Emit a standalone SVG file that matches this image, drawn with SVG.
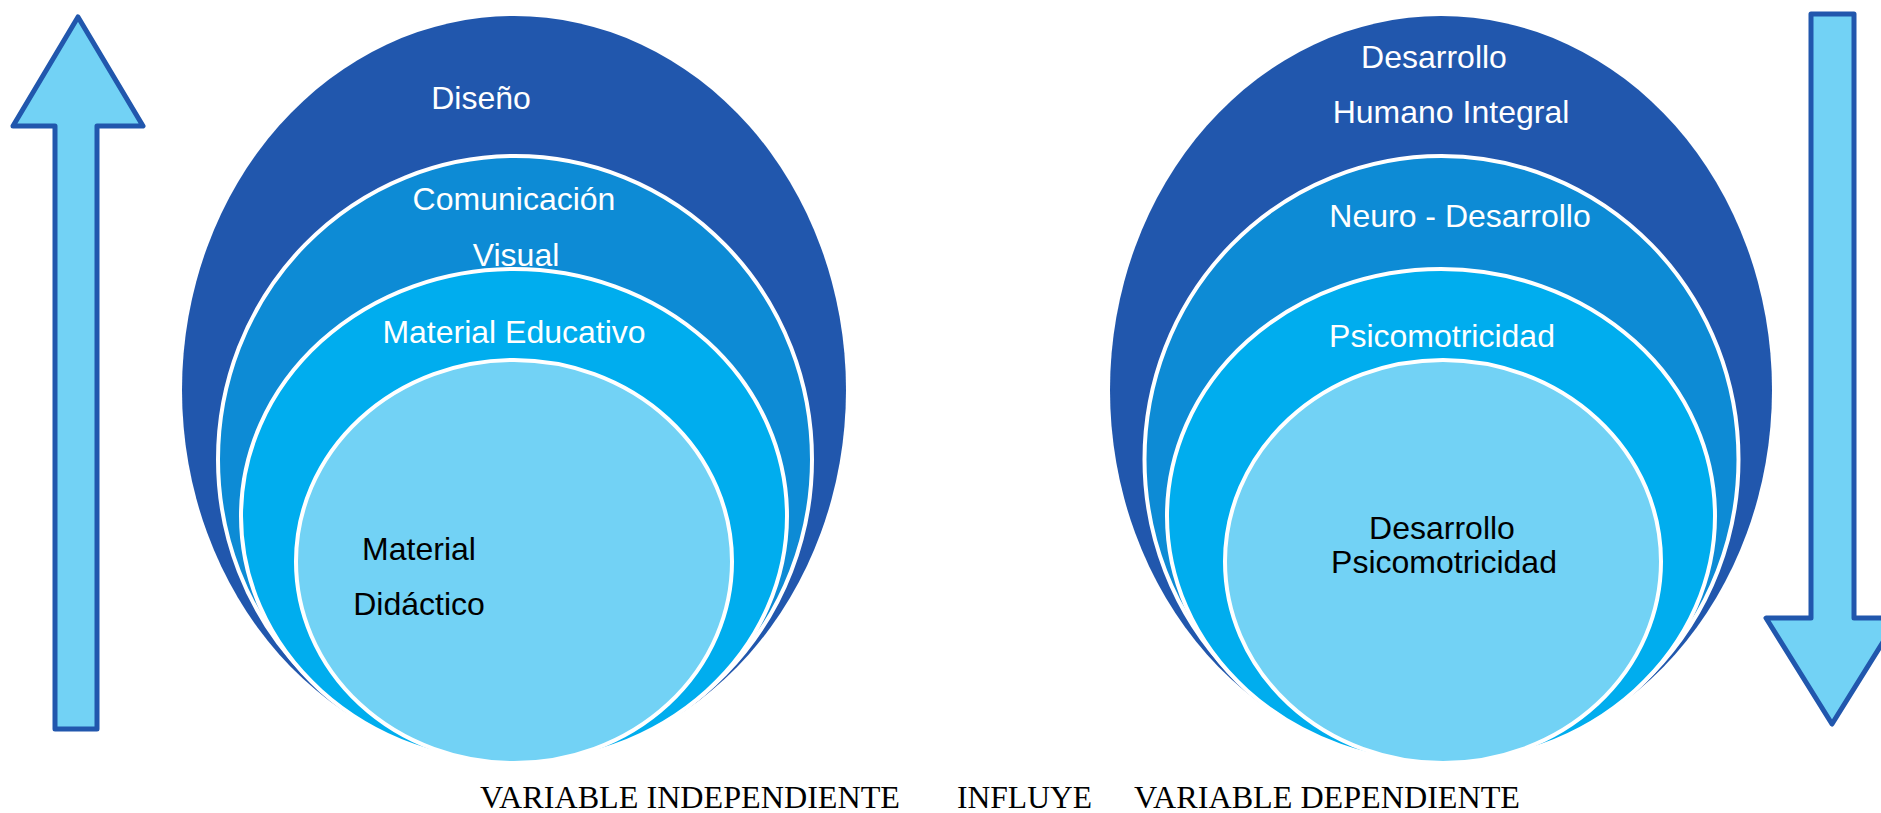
<svg xmlns="http://www.w3.org/2000/svg" width="1881" height="813" viewBox="0 0 1881 813">
<style>
.arrow{fill:#72D2F5;stroke:#2157AD;stroke-width:5;stroke-linejoin:round}
.e1{fill:#2157AD}
.e2{fill:#0D8BD5;stroke:#fff;stroke-width:4}
.e3{fill:#00ADEE;stroke:#fff;stroke-width:4}
.e4{fill:#72D2F5;stroke:#fff;stroke-width:4}
.w{font-family:"Liberation Sans",Arial,sans-serif;font-size:32px;fill:#fff;text-anchor:middle}
.b{font-family:"Liberation Sans",Arial,sans-serif;font-size:32px;fill:#000;text-anchor:middle}
.s{font-family:"Liberation Serif","Times New Roman",serif;font-size:31px;fill:#000}
</style>
<rect width="1881" height="813" fill="#fff"/>
<g id="arrow-up">
<path class="arrow" d="M78,17 L143,126 L97,126 L97,729 L55,729 L55,126 L13,126 Z"/>
</g>
<g id="arrow-down">
<path class="arrow" d="M1811,14 L1854,14 L1854,618 L1898,618 L1832,724 L1766,618 L1811,618 Z"/>
</g>
<g id="left-diseno">
<ellipse class="e1" cx="514" cy="390" rx="332" ry="374"/>
<text class="w" x="481" y="109">Diseño</text>
</g>
<g id="left-comunicacion">
<ellipse class="e2" cx="515" cy="459.5" rx="297" ry="303.5"/>
<text class="w" x="514" y="210">Comunicación</text>
<text class="w" x="516" y="266">Visual</text>
</g>
<g id="left-material-educativo">
<ellipse class="e3" cx="514" cy="516" rx="273" ry="247"/>
<text class="w" x="514" y="343">Material Educativo</text>
</g>
<g id="left-material-didactico">
<ellipse class="e4" cx="514" cy="561.5" rx="218" ry="201.5"/>
<text class="b" x="419" y="560">Material</text>
<text class="b" x="419" y="615">Didáctico</text>
</g>
<g id="right-desarrollo-humano">
<ellipse class="e1" cx="1441" cy="390" rx="331" ry="374"/>
<text class="w" x="1434" y="68">Desarrollo</text>
<text class="w" x="1451" y="123">Humano Integral</text>
</g>
<g id="right-neuro">
<ellipse class="e2" cx="1441.5" cy="459.5" rx="297" ry="303.5"/>
<text class="w" x="1460" y="227">Neuro - Desarrollo</text>
</g>
<g id="right-psicomotricidad">
<ellipse class="e3" cx="1441" cy="516" rx="274" ry="247"/>
<text class="w" x="1442" y="347">Psicomotricidad</text>
</g>
<g id="right-desarrollo-psico">
<ellipse class="e4" cx="1443" cy="561.5" rx="218" ry="201.5"/>
<text class="b" x="1442" y="539">Desarrollo</text>
<text class="b" x="1444" y="573">Psicomotricidad</text>
</g>
<g id="connectors"></g>
<g id="labels">
<text class="s" x="480" y="808" textLength="420" lengthAdjust="spacingAndGlyphs">VARIABLE INDEPENDIENTE</text>
<text class="s" x="957" y="808" textLength="135" lengthAdjust="spacingAndGlyphs">INFLUYE</text>
<text class="s" x="1134" y="808" textLength="386" lengthAdjust="spacingAndGlyphs">VARIABLE DEPENDIENTE</text>
</g>
</svg>
